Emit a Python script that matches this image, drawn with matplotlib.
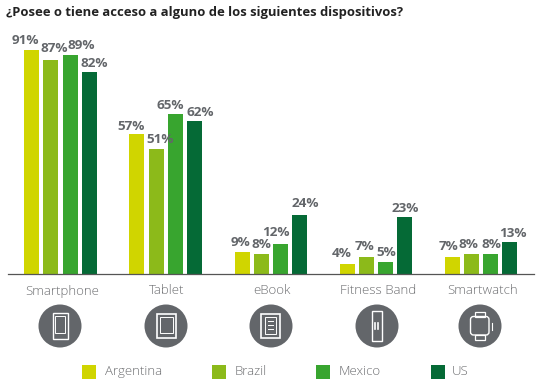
import matplotlib
matplotlib.use('Agg')
import matplotlib.pyplot as plt
from matplotlib.patches import Circle, Rectangle, FancyBboxPatch

plt.rcParams['font.family'] = ['Open Sans', 'DejaVu Sans']

categories = ['Smartphone', 'Tablet', 'eBook', 'Fitness Band', 'Smartwatch']
countries = ['Argentina', 'Brazil', 'Mexico', 'US']
argentina = [91, 57, 9, 4, 7]
brazil = [87, 51, 8, 7, 8]
mexico = [89, 65, 12, 5, 8]
us = [82, 62, 24, 23, 13]
colors = ['#d0d500', '#8cba1a', '#38a52f', '#056a36']
grey = '#63666a'

# label nudges in pixels (dx, dy above bar top), one row per country
nudge_argentina = [(-6, 6.5), (-6, 4), (-2, 6), (-5.5, 7.5), (-3.5, 6.5)]
nudge_brazil = [(3.5, 8), (4.5, 5.5), (0, 6), (-1.5, 6.5), (-2.5, 6)]
nudge_mexico = [(11.5, 6.5), (-4.5, 5), (-4, 8), (1, 5.5), (1, 6)]
nudge_us = [(5.5, 5), (5.5, 5.5), (5.5, 8), (1, 5.5), (3.5, 5.5)]

W, H = 542, 389
fig = plt.figure(figsize=(W / 100, H / 100), dpi=100)

# bars
ax = fig.add_axes([8 / W, 1 - 274 / H, 526 / W, 244 / H])
offsets = [-0.273, -0.0905, 0.0905, 0.273]
series = [argentina, brazil, mexico, us]
nudges = [nudge_argentina, nudge_brazil, nudge_mexico, nudge_us]
for vals, off, col, nud in zip(series, offsets, colors, nudges):
    for i, v in enumerate(vals):
        ax.bar(i + off, v, width=0.1427, color=col)
        ax.annotate(f'{v}%', (i + off, v), xytext=(nud[i][0] * 0.72, nud[i][1] * 0.72),
                    textcoords='offset points', ha='center', va='baseline', fontsize=9.7,
                    fontweight='bold', color=grey)
ax.set_xlim(-0.4995, -0.4995 + 526 / 105.1)
ax.set_ylim(0, 244 / 2.46)
ax.set_yticks([])
ax.set_xticks([])
for s in ['top', 'left', 'right']:
    ax.spines[s].set_visible(False)
ax.spines['bottom'].set_color('#555555')
ax.spines['bottom'].set_linewidth(0.9)

# overlay in pixels for title, labels, icons, legend
ov = fig.add_axes([0, 0, 1, 1])
ov.set_xlim(0, W)
ov.set_ylim(H, 0)
ov.axis('off')
ov.patch.set_alpha(0)

ov.text(6, 12, '¿Posee o tiene acceso a alguno de los siguientes dispositivos?',
        fontsize=9.35, fontweight='bold', color='#222222', va='center')

label_x = [62.5, 166.5, 272, 378, 483]
icon_x = [60, 166, 271, 377, 480]
for name, lx, cx in zip(categories, label_x, icon_x):
    ov.text(lx, 291, name, ha='center', va='center', fontsize=9.5, color='#6d6e71',
            fontweight='light')
    ov.add_patch(Circle((cx, 326), 21.5, color=grey, lw=0))


def box(x, y, w, h, lw=1.0):
    ov.add_patch(Rectangle((x, y), w, h, fill=False, ec='white', lw=lw))


# smartphone
box(52.5, 313, 15, 25.5)
box(55, 315.5, 10, 17.5, 0.7)
# tablet
box(157, 313.5, 18.5, 24.5, 1.2)
box(160, 317, 12.5, 16, 0.7)
# ebook
box(261, 313.5, 18.5, 24.5, 1.2)
box(265, 317, 11, 16.5, 0.7)
for yy in [320.5, 324.5, 328.5]:
    ov.plot([268, 273], [yy, yy], color='white', lw=0.7)
# fitness band
box(371.5, 311, 10, 29.5, 1.0)
ov.plot([375, 375], [323, 329], color='white', lw=1.2)
ov.plot([378, 378], [323, 329], color='white', lw=1.2)
# smartwatch
ov.add_patch(FancyBboxPatch((470.5, 316.5), 18.5, 18.5, boxstyle='round,pad=0,rounding_size=3',
                            fill=False, ec='white', lw=1.0))
box(475, 311.5, 9.5, 5, 0.9)
box(475, 335, 9.5, 5, 0.9)
ov.plot([491.7, 491.7], [323, 330], color='white', lw=0.8)

# legend
swatch_x = [82, 212, 316, 431]
legend_text_x = [105, 235, 339, 452]
for name, sx, tx, col in zip(countries, swatch_x, legend_text_x, colors):
    ov.add_patch(Rectangle((sx, 365), 14, 13.5, color=col, lw=0))
    ov.text(tx, 371.5, name, va='center', fontsize=9.5, color='#6d6e71', fontweight='light')

fig.savefig('out.png', dpi=100)
